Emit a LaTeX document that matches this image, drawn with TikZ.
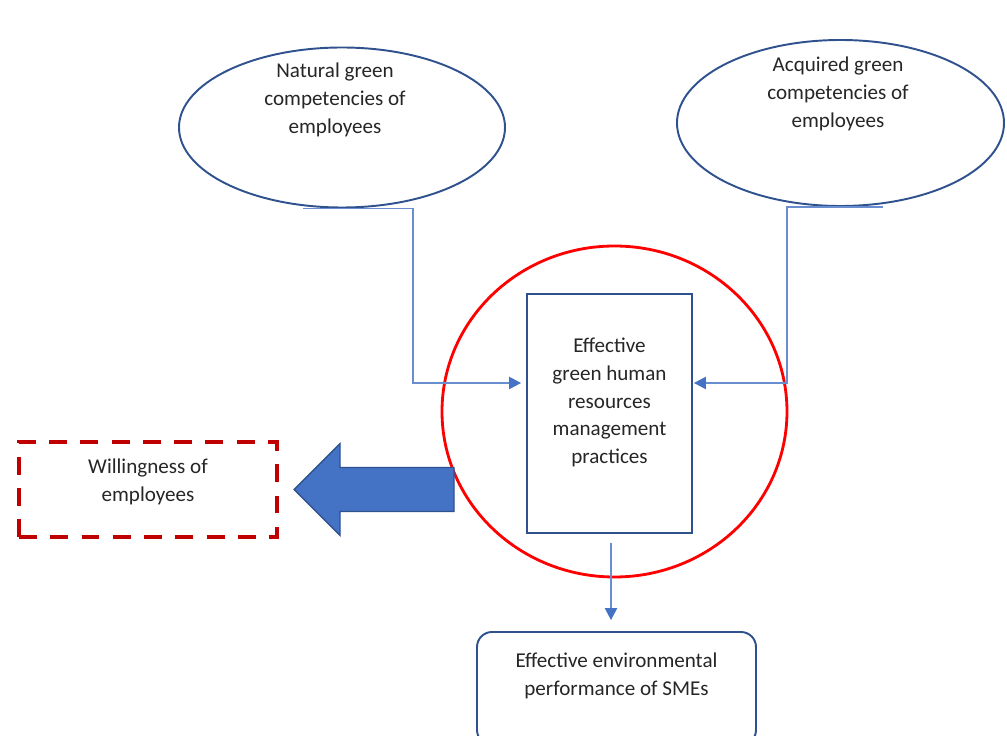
\documentclass[tikz,border=0pt]{standalone}
\usepackage{fontspec}
\setmainfont{Carlito}
\usetikzlibrary{shapes.geometric,arrows.meta}
\definecolor{ovalblue}{RGB}{47,82,143}
\definecolor{fillblue}{RGB}{68,114,196}
\definecolor{dashred}{RGB}{192,0,0}

\begin{document}
\begin{tikzpicture}[
  oval/.style={
    ellipse,
    draw=ovalblue,
    line width=1.1pt,
    minimum width=6.52cm,
    minimum height=3.2cm
  },
  txt/.style={
    align=center,
    text=black!85,
    font=\fontsize{12}{15.8}\selectfont
  },
  link/.style={
    draw=fillblue!80,
    line width=0.8pt,
    -{Triangle[length=6.8pt,width=7pt,color=fillblue]}
  }
]
\clip (0,0) rectangle (20.14,14.72);
\node[oval] (natural) at (6.84,12.17)
   [label={[txt,xshift=-0.14cm,yshift=0.55cm]center:Natural green\\competencies of\\employees}] {};
\node[oval,minimum width=6.54cm,minimum height=3.32cm] (acquired) at (16.81,12.26)
   [label={[txt,xshift=-0.05cm,yshift=0.58cm]center:Acquired green\\competencies of\\employees}] {};
\node[ellipse,draw=red,line width=1.6pt,minimum width=6.9cm,minimum height=6.62cm] (ring) at (12.29,6.49) {};
\node[draw=ovalblue,line width=1.1pt,minimum width=3.3cm,minimum height=4.78cm] (ghrm) at (12.19,6.45)
   [label={[txt,yshift=0.22cm]center:Effective\\green human\\resources\\management\\practices}] {};
\node[draw=dashred,line width=2.3pt,dash pattern=on 10.2pt off 7.6pt,minimum width=5.16cm,minimum height=1.9cm] (willing) at (2.96,4.93)
   [label={[txt,yshift=0.15cm]center:Willingness of\\employees}] {};
\node[draw=ovalblue,line width=1.1pt,rounded corners=0.3cm,minimum width=5.58cm,minimum height=2.26cm] (smes) at (12.33,0.95)
   [label={[txt,yshift=0.25cm]center:Effective environmental\\performance of SMEs}] {};
\coordinate (tip) at ([xshift=0.3cm]willing.east);
\filldraw[fill=fillblue,draw=ovalblue,line width=0.8pt] (tip) -- ++(0.92,0.92) -- ++(0,-0.48) -- ++(2.28,0)
   -- ++(0,-0.88) -- ++(-2.28,0) -- ++(0,-0.48) -- cycle;
\draw[link] ([xshift=-0.78cm]natural.south) -- ++(2.2,0) |- ([xshift=-0.1cm,yshift=0.61cm]ghrm.west);
\draw[link] ([xshift=0.85cm]acquired.south) -- ++(-1.92,0) |- ([xshift=0.02cm,yshift=0.61cm]ghrm.east);
\draw[link] ([xshift=0.03cm,yshift=-0.18cm]ghrm.south) -- ([xshift=0.03cm,yshift=0.22cm]ghrm.south |- smes.north);
\end{tikzpicture}
\end{document}
